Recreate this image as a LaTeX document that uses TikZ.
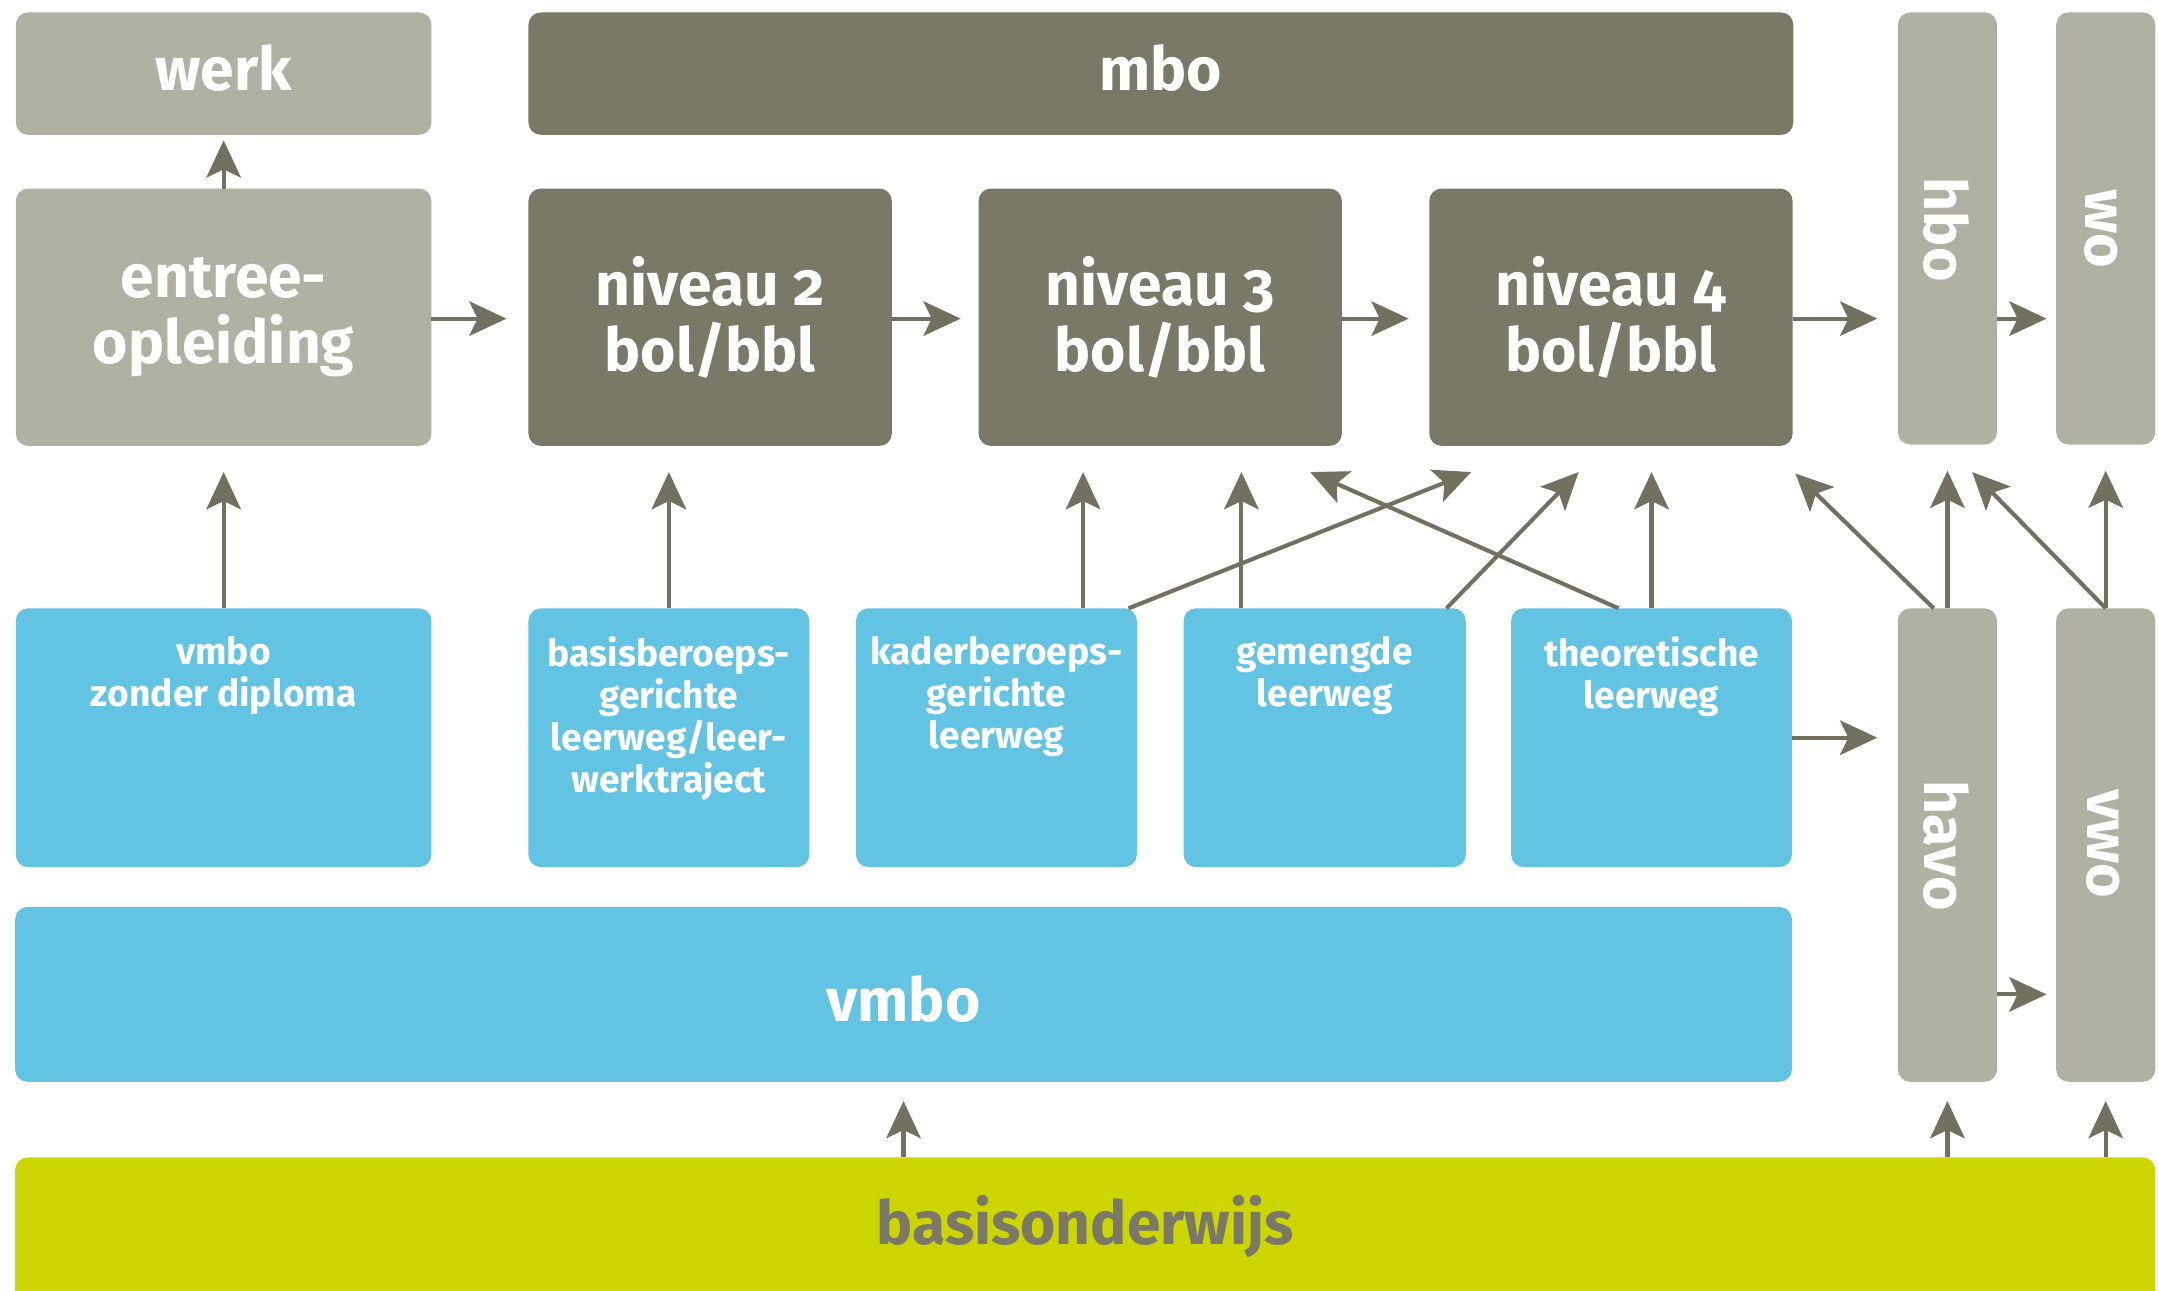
\documentclass[tikz,border=0pt]{standalone}
\usepackage{fontspec}
\setmainfont{Fira Sans}[Numbers=OldStyle]
\usetikzlibrary{arrows.meta,calc}
\definecolor{lgr}{HTML}{B1B1A3}
\definecolor{dgr}{HTML}{7A7967}
\definecolor{blu}{HTML}{63C3E3}
\definecolor{ylw}{HTML}{CDD500}
\definecolor{arc}{HTML}{727160}
\definecolor{btx}{HTML}{7A7868}
\tikzset{
  bx/.style={rounded corners=9pt, inner sep=0pt, outer sep=0pt},
  lg/.style={bx, fill=lgr},
  dg/.style={bx, fill=dgr},
  bl/.style={bx, fill=blu},
  yl/.style={bx, fill=ylw},
  bigtxt/.style={text=white, font=\fontsize{44}{48.5}\selectfont\bfseries, align=center},
  smalltxt/.style={text=white, font=\fontsize{27}{30.5}\selectfont\bfseries, align=center, inner sep=0pt, anchor=north},
  vtxt/.style={text=white, font=\fontsize{43}{48}\selectfont\bfseries, rotate=-90, inner sep=0pt},
  arr/.style={draw=arc, line width=3pt, -{Stealth[length=27pt, width=25pt, inset=6pt]}},
}
\begin{document}
\begin{tikzpicture}[x=1pt,y=-1pt]
\clip (0,0) rectangle (1568,938);
\fill[white] (0,0) rectangle (1568,938);
% top row
\node[lg, minimum width=302pt, minimum height=89pt, bigtxt, text height=32pt, text depth=8pt] (werk) at (162.5,53.5) {werk};
\node[dg, minimum width=919pt, minimum height=89pt, bigtxt, text height=32pt, text depth=8pt] (mbo) at (843.5,53.5) {mbo};
\node[lg, minimum width=302pt, minimum height=187pt, bigtxt] (entree) at (162.5,230.5) {entree-\\opleiding};
\node[dg, minimum width=264pt, minimum height=187pt, bigtxt] (n2) at (516,230.5) {niveau 2\\bol/bbl};
\node[dg, minimum width=264pt, minimum height=187pt, bigtxt] (n3) at (843,230.5) {niveau 3\\bol/bbl};
\node[dg, minimum width=264pt, minimum height=187pt, bigtxt] (n4) at (1170.5,230.5) {niveau 4\\bol/bbl};
\node[lg, minimum width=72pt, minimum height=314pt] (hbo) at (1415,166) {};
\node[vtxt] (thbo) at (1414,167) {hbo};
\node[lg, minimum width=72pt, minimum height=314pt] (wo) at (1530,166) {};
\node[vtxt] (two) at (1527,166) {wo};
% vmbo row
\node[bl, minimum width=302pt, minimum height=188pt] (vzd) at (162.5,536) {};
\node[smalltxt] (tvzd) at ($(vzd.north)+(0,20)$) {vmbo\\zonder diploma};
\node[bl, minimum width=204pt, minimum height=188pt] (bb) at (486,536) {};
\node[smalltxt] (tbb) at ($(bb.north)+(0,20)$) {basisberoeps-\\gerichte\\leerweg/leer-\\werktraject};
\node[bl, minimum width=204pt, minimum height=188pt] (kb) at (724,536) {};
\node[smalltxt] (tkb) at ($(kb.north)+(0,20)$) {kaderberoeps-\\gerichte\\leerweg};
\node[bl, minimum width=205pt, minimum height=188pt] (gl) at (962.5,536) {};
\node[smalltxt] (tgl) at ($(gl.north)+(0,20)$) {gemengde\\leerweg};
\node[bl, minimum width=204pt, minimum height=188pt] (tl) at (1200,536) {};
\node[smalltxt] (ttl) at ($(tl.north)+(0,20)$) {theoretische\\leerweg};
\node[bl, minimum width=1291pt, minimum height=127pt, bigtxt, text height=40pt, text depth=0pt] (vmbo) at (656.5,722.5) {vmbo};
\node[lg, minimum width=72pt, minimum height=344pt] (havo) at (1415,614) {};
\node[vtxt] (thavo) at (1414,614.5) {havo};
\node[lg, minimum width=72pt, minimum height=344pt] (vwo) at (1530,614) {};
\node[vtxt] (tvwo) at (1528,613) {vwo};
% basisonderwijs
\node[yl, minimum width=1555pt, minimum height=119pt] (basis) at (788.5,900.5) {};
\node[anchor=base, inner sep=0pt, text=btx, font=\fontsize{44}{48}\selectfont\bfseries] (tbasis) at ($(basis.north)+(0,63)$) {basisonderwijs};
% helper coordinates
\coordinate (k1) at ($(kb.north)+(63,0)$);
\coordinate (k2) at ($(kb.north)+(96,0)$);
\coordinate (g1) at ($(gl.north)+(-60.5,0)$);
\coordinate (g2) at ($(gl.north)+(88.5,0)$);
\coordinate (t1) at ($(tl.north)+(-24,0)$);
\coordinate (h1) at ($(havo.north)+(-10,0)$);
\coordinate (rowy) at (0,231.5);
% arrows
\draw[arr, shorten >=4pt] (entree.north) -- (werk.south);
\draw[arr, shorten >=16pt] (entree.east |- rowy) -- (n2.west |- rowy);
\draw[arr, shorten >=13pt] (n2.east |- rowy) -- (n3.west |- rowy);
\draw[arr, shorten >=15pt] (n3.east |- rowy) -- (n4.west |- rowy);
\draw[arr, shorten >=15pt] (n4.east |- rowy) -- (hbo.west |- rowy);
\draw[arr, shorten >=7pt] (hbo.east |- rowy) -- (wo.west |- rowy);
\draw[arr, shorten >=19pt] (vzd.north) -- (entree.south);
\draw[arr, shorten >=19pt] (bb.north) -- (bb.north |- n2.south);
\draw[arr, shorten >=19pt] (k1) -- (k1 |- n3.south);
\draw[arr] (k2) -- ($(n4.south)+(-101.5,19)$);
\draw[arr, shorten >=19pt] (g1) -- (g1 |- n3.south);
\draw[arr] (g2) -- ($(n4.south)+(-23.5,19)$);
\draw[arr] (t1) -- ($(n3.south)+(109,19)$);
\draw[arr, shorten >=19pt] (tl.north) -- (tl.north |- n4.south);
\draw[arr] (h1) -- ($(n4.south east)+(2,20)$);
\draw[arr, shorten >=19pt] (havo.north) -- (hbo.south);
\draw[arr] (vwo.north) -- ($(hbo.south)+(18,20)$);
\draw[arr, shorten >=19pt] (vwo.north) -- (wo.south);
\draw[arr, shorten >=15pt] (tl.east) -- (tl.east -| havo.west);
\draw[arr, shorten >=7pt] (vmbo.east -| havo.east) -- (vmbo.east -| vwo.west);
\draw[arr, shorten >=14pt] (vmbo.south |- basis.north) -- (vmbo.south);
\draw[arr, shorten >=14pt] (havo.south |- basis.north) -- (havo.south);
\draw[arr, shorten >=14pt] (vwo.south |- basis.north) -- (vwo.south);
\end{tikzpicture}
\end{document}
